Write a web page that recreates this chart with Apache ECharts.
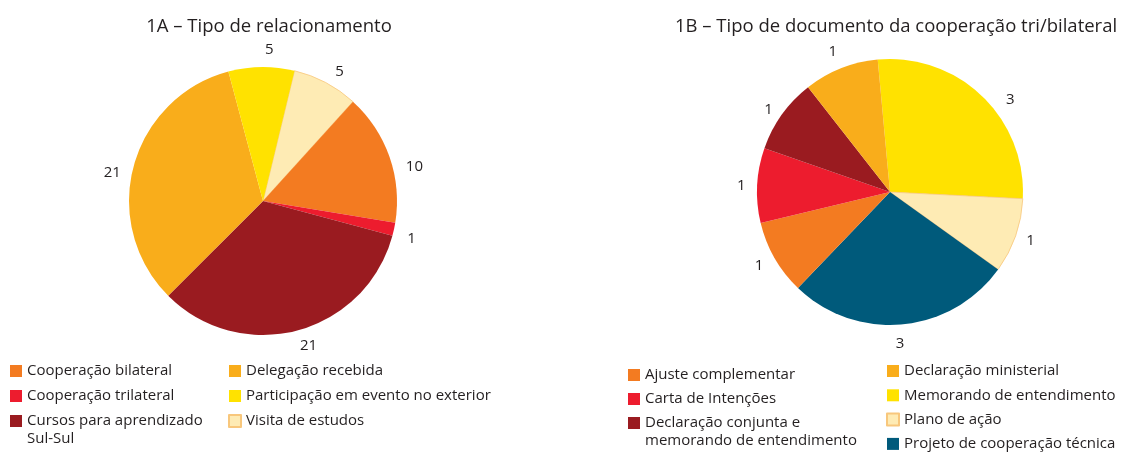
<!DOCTYPE html>
<html>
<head>
<meta charset="utf-8">
<script src="https://cdn.jsdelivr.net/npm/echarts@6/dist/echarts.min.js"></script>
<style>
  html, body { margin: 0; padding: 0; background: #fff; }
  #chart { width: 1145px; height: 453px; }
</style>
</head>
<body>
<div id="chart"></div>
<script>
// 1A – relationship types (clockwise order of slices)
const relNames = ['Visita de estudos', 'Cooperação bilateral', 'Cooperação trilateral',
  'Cursos para aprendizado\nSul-Sul', 'Delegação recebida', 'Participação em evento no exterior'];
const relValues = [5, 10, 1, 21, 21, 5];
const relColors = ['#FEEBB4', '#F37B21', '#ED1C2E', '#9A1B20', '#F9AD1B', '#FFE200'];

// 1B – document types of tri/bilateral cooperation (clockwise order of slices)
const docNames = ['Memorando de entendimento', 'Plano de ação', 'Projeto de cooperação técnica',
  'Ajuste complementar', 'Carta de Intenções', 'Declaração conjunta e\nmemorando de entendimento',
  'Declaração ministerial'];
const docValues = [3, 1, 3, 1, 1, 1, 1];
const docColors = ['#FFE200', '#FEEBB4', '#005A7B', '#F37B21', '#ED1C2E', '#9A1B20', '#F9AD1B'];

// Small per-label nudges (px) applied to the value labels around each pie
const relLabelNudge = [[5, 6], [7, 16], [-1, 5], [6, -3], [-3, 11], [8, 2]];
const docLabelNudge = [[15, 17], [-3, -1], [-4, 0], [1, -2], [3, 1], [2, 6], [-1, 1]];

// Legend columns
const relLegendCol1 = ['Cooperação bilateral', 'Cooperação trilateral'];
const relLegendCol1b = ['Cursos para aprendizado\nSul-Sul'];
const relLegendCol2 = ['Delegação recebida', 'Participação em evento no exterior', 'Visita de estudos'];
const docLegendCol1 = ['Ajuste complementar', 'Carta de Intenções'];
const docLegendCol1b = ['Declaração conjunta e\nmemorando de entendimento'];
const docLegendCol2 = ['Declaração ministerial', 'Memorando de entendimento', 'Plano de ação',
  'Projeto de cooperação técnica'];

const FONT = 'Open Sans';
const TEXT = '#231F20';
const LIGHT_BORDER = '#F8C77C';

function slices(names, values, colors) {
  return names.map((n, i) => ({
    name: n,
    value: values[i],
    itemStyle: colors[i] === '#FEEBB4'
      ? { color: colors[i], borderColor: LIGHT_BORDER, borderWidth: 0.8 }
      : { color: colors[i] }
  }));
}

// Transparent outer ring whose inside labels sit just outside the pie
function labelRing(names, values, nudges, center, r, startAngle) {
  return {
    type: 'pie', center: center, radius: [r, r + 32], startAngle: startAngle,
    clockwise: true, silent: true, avoidLabelOverlap: false,
    itemStyle: { color: 'rgba(0,0,0,0)' },
    emphasis: { disabled: true }, tooltip: { show: false },
    label: { show: true, position: 'inside', formatter: '{c}',
      color: TEXT, fontFamily: FONT, fontSize: 15 },
    labelLine: { show: false },
    data: names.map((n, i) => ({ name: n, value: values[i], label: { offset: nudges[i] } }))
  };
}

const legendBase = {
  orient: 'vertical', padding: 0, icon: 'rect', itemWidth: 12, itemHeight: 12,
  itemGap: 7, selectedMode: false,
  textStyle: { color: TEXT, fontFamily: FONT, fontSize: 15, lineHeight: 18 }
};
// Two-line entries: a leading blank line keeps the first line level with the swatch
const topAligned = { formatter: name => '\n' + name };

const titleStyle = { fontFamily: FONT, fontSize: 18.5, fontWeight: 'normal', color: TEXT };

const chart = echarts.init(document.getElementById('chart'), null, { renderer: 'canvas' });
chart.setOption({
  animation: false,
  title: [
    { text: '1A – Tipo de relacionamento', left: 264, top: 12, textAlign: 'center', textStyle: titleStyle },
    { text: '1B – Tipo de documento da cooperação tri/bilateral', left: 891, top: 12, textAlign: 'center',
      textStyle: titleStyle }
  ],
  legend: [
    Object.assign({}, legendBase, { left: 10, top: 362, data: relLegendCol1 }),
    Object.assign({}, legendBase, topAligned, { left: 10, top: 394, data: relLegendCol1b }),
    Object.assign({}, legendBase, { left: 228, top: 362, data: relLegendCol2 }),
    Object.assign({}, legendBase, { left: 628, top: 366, itemGap: 6, data: docLegendCol1 }),
    Object.assign({}, legendBase, topAligned, { left: 628, top: 396, data: docLegendCol1b }),
    Object.assign({}, legendBase, { left: 886, top: 362, itemGap: 6.3, data: docLegendCol2 })
  ],
  series: [
    { type: 'pie', center: [263, 201], radius: 134, startAngle: 76.4, clockwise: true,
      label: { show: false }, labelLine: { show: false },
      data: slices(relNames, relValues, relColors) },
    labelRing(relNames, relValues, relLabelNudge, [263, 201], 134, 76.4),
    { type: 'pie', center: [890, 192], radius: 133, startAngle: 95.3, clockwise: true,
      label: { show: false }, labelLine: { show: false },
      data: slices(docNames, docValues, docColors) },
    labelRing(docNames, docValues, docLabelNudge, [890, 192], 133, 95.3)
  ]
});
</script>
</body>
</html>
